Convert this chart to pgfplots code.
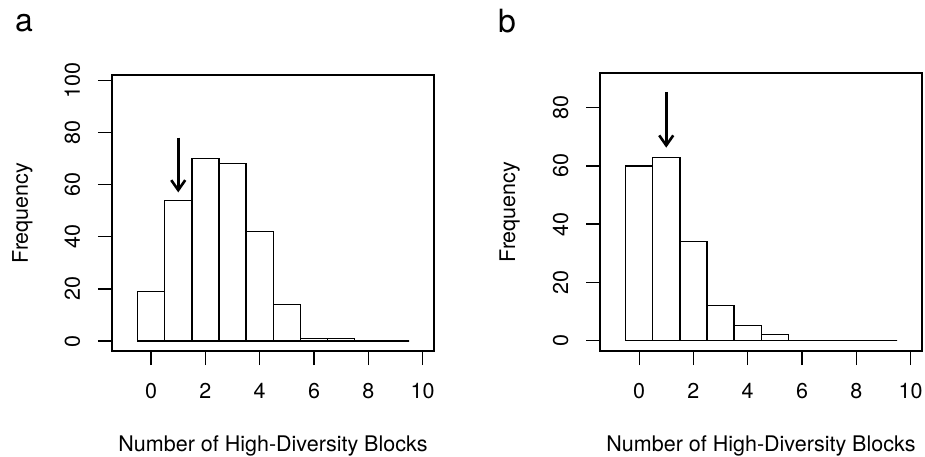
\documentclass[border=0pt]{standalone}
\usepackage{fontspec}
\setmainfont{TeX Gyre Heros}
\usepackage{pgfplots}
\pgfplotsset{compat=1.18}
\usetikzlibrary{arrows.meta}

\pgfplotsset{
  hist/.style={
    scale only axis, width=322pt,
    xmin=-1.44, xmax=10.42,
    xtick={0,2,...,10},
    tick pos=left, tick align=outside,
    major tick length=14pt,
    major tick style={black, line width=1.2pt},
    axis line style={line width=1.8pt},
    tick label style={font=\fontsize{21.5}{26}\selectfont},
    /pgf/number format/assume math mode=true,
    xticklabel style={anchor=base, inner sep=0pt, yshift=-33.5pt},
    yticklabel style={rotate=90, anchor=base, inner sep=0pt, yshift=18pt},
    anchor=south west,
    clip=false,
  },
  bars/.style={ybar interval, draw=black, fill=white, line width=1.4pt},
  arr/.style={line width=2.6pt, -{Straight Barb[length=10pt, width=14pt]}},
}

\begin{document}
\begin{tikzpicture}
\useasboundingbox (0,0) rectangle (925pt,456pt);
\begin{axis}[hist, at={(112pt,105pt)}, height=276pt,
  ymin=-3.8, ymax=102, ytick={0,20,...,100}]
  \addplot[bars] coordinates {(-0.5,19) (0.5,54) (1.5,70) (2.5,68) (3.5,42) (4.5,14) (5.5,1) (6.5,1) (7.5,0) (8.5,0) (9.5,0)};
  \addplot[arr] coordinates {(1,78) (1,57)};
\end{axis}
\begin{axis}[hist, at={(600pt,105pt)}, height=278pt,
  ymin=-3.7, ymax=92, ytick={0,20,...,80}]
  \addplot[bars] coordinates {(-0.5,60) (0.5,63) (1.5,34) (2.5,12) (3.5,5) (4.5,2) (5.5,0) (6.5,0) (7.5,0) (8.5,0) (9.5,0)};
  \addplot[arr] coordinates {(1,85.5) (1,66.3)};
\end{axis}
\begin{scope}[font=\fontsize{21.5}{26}\selectfont]
  \node[anchor=base, inner sep=0pt] at (273pt,5pt) {Number of High-Diversity Blocks};
  \node[anchor=base, inner sep=0pt] at (761pt,5pt) {Number of High-Diversity Blocks};
  \node[rotate=90, anchor=base, inner sep=0pt] at (28pt,243pt) {Frequency};
  \node[rotate=90, anchor=base, inner sep=0pt] at (515pt,244pt) {Frequency};
\end{scope}
\begin{scope}[font=\fontsize{32}{38}\selectfont]
  \node[anchor=base west, inner sep=0pt] at (15pt,424pt) {a};
  \node[anchor=base west, inner sep=0pt] at (498pt,423pt) {b};
\end{scope}
\end{tikzpicture}
\end{document}
